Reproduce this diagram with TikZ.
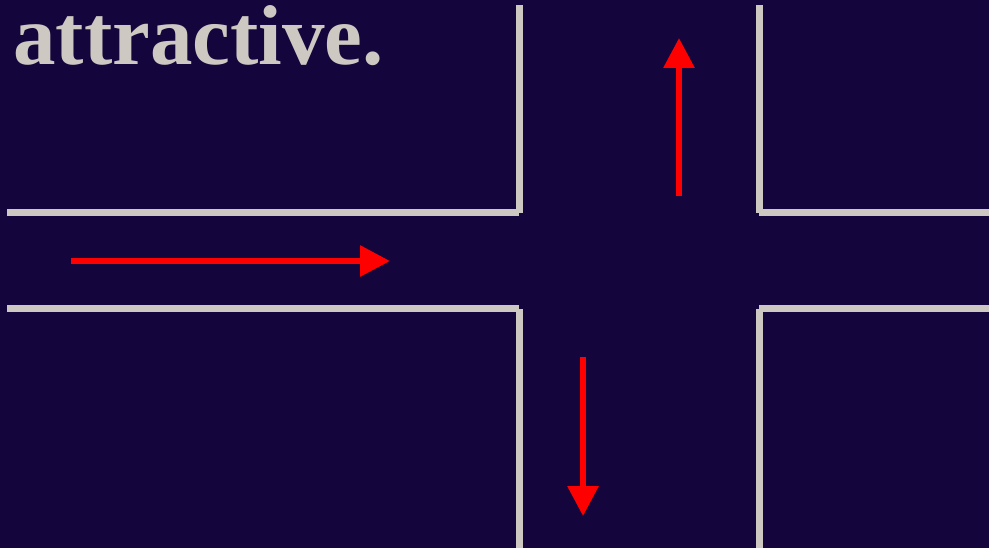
\documentclass[tikz,border=0pt]{standalone}
\usepackage{fontspec}
\setmainfont{Liberation Serif}
\usetikzlibrary{arrows.meta}
\definecolor{nightbg}{HTML}{14063C}
\definecolor{wallgray}{HTML}{CEC8C2}
\NewDocumentCommand\DrawWall{mmmm}%
{%
\draw[wall] ({#1},{#2}) -- ({#3},{#4});%
}
\tikzset{
  wall/.style={wallgray,line width=7pt},
  flow/.style={red,line width=6pt,-{Triangle[length=30pt,width=30pt]}}
}

\begin{document}
\begin{tikzpicture}[x=1pt,y=-1pt]
\fill[nightbg] (0,0) rectangle (989,548);
\useasboundingbox (0,0) rectangle (989,548);
\node[anchor=base west,inner sep=0pt,text=wallgray,font=\fontsize{85}{90}\selectfont\bfseries] (word) at (13,65) {attractive.};
% walls
\DrawWall{7}{213}{519}{213}
\DrawWall{519}{5}{519}{213}
\DrawWall{7}{309}{519}{309}
\DrawWall{519}{309}{519}{548}
\DrawWall{759}{5}{759}{213}
\DrawWall{759}{213}{989}{213}
\DrawWall{759}{309}{989}{309}
\DrawWall{759}{309}{759}{548}
% arrows
\coordinate (inS) at (71,261);
\coordinate (inE) at (390,261);
\coordinate (upS) at (679,196);
\coordinate (upE) at (679,38);
\coordinate (dnS) at (583,357);
\coordinate (dnE) at (583,516);
\draw[flow] (inS) -- (inE);
\draw[flow] (upS) -- (upE);
\draw[flow] (dnS) -- (dnE);
\end{tikzpicture}
\end{document}
